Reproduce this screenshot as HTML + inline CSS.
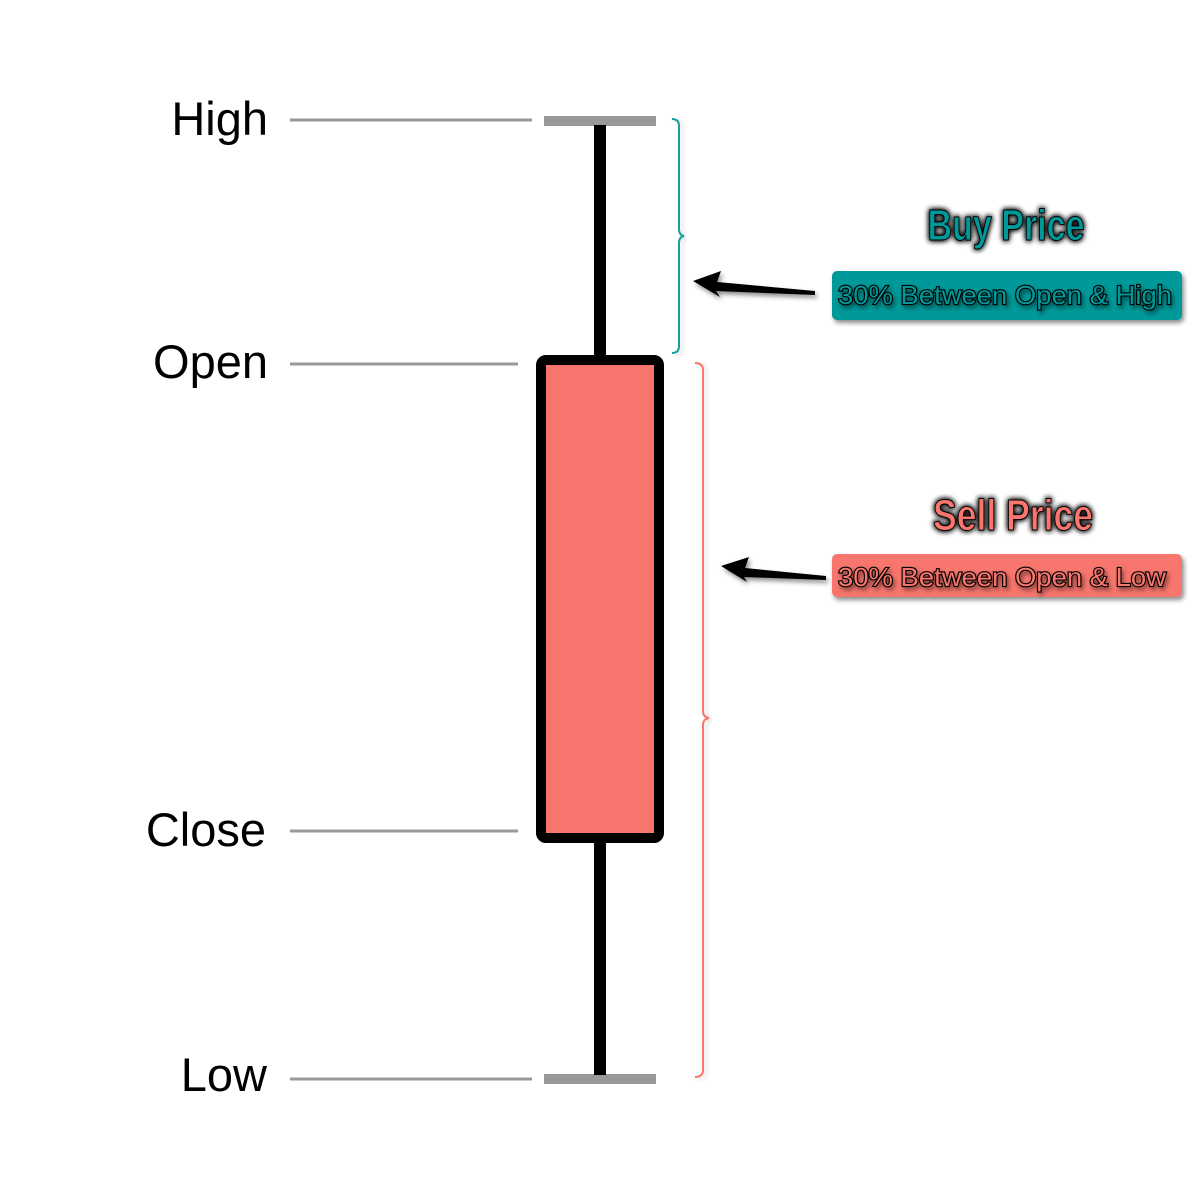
<!DOCTYPE html>
<html><head><meta charset="utf-8"><style>
html,body{margin:0;padding:0;background:#fff;}
svg{display:block}
</style></head><body>
<svg width="1200" height="1200" viewBox="0 0 1200 1200" xmlns="http://www.w3.org/2000/svg">
<defs>
<filter id="glow" x="-20%" y="-40%" width="140%" height="180%">
<feGaussianBlur in="SourceAlpha" stdDeviation="3" result="b"/>
<feMerge><feMergeNode in="b"/><feMergeNode in="b"/><feMergeNode in="SourceGraphic"/></feMerge>
</filter>
<filter id="sh" x="-10%" y="-30%" width="120%" height="160%">
<feDropShadow dx="2" dy="3" stdDeviation="2.5" flood-color="#000" flood-opacity="0.45"/>
</filter>
<filter id="sh2" x="-10%" y="-10%" width="130%" height="130%">
<feDropShadow dx="3" dy="2" stdDeviation="2" flood-color="#000" flood-opacity="0.15"/>
</filter>
</defs>
<g font-family="Liberation Sans, sans-serif" font-size="47" fill="#000" text-anchor="end">
<text x="268" y="135">High</text>
<text x="268" y="378">Open</text>
<text x="266" y="846">Close</text>
<text x="267" y="1091">Low</text>
</g>
<g stroke="#999" stroke-width="3">
<line x1="290" y1="120" x2="532" y2="120"/>
<line x1="290" y1="364" x2="518" y2="364"/>
<line x1="290" y1="831" x2="518" y2="831"/>
<line x1="290" y1="1079" x2="532" y2="1079"/>
</g>
<rect x="544" y="116" width="112" height="10" fill="#999"/>
<rect x="544" y="1074" width="112" height="10" fill="#999"/>
<rect x="594" y="125" width="12" height="950" fill="#000"/>
<rect x="541" y="360" width="118" height="478" rx="5" fill="#F8766D" stroke="#000" stroke-width="10"/>
<path d="M672,119 Q679,119 679,126 L679,229 Q679,235 684,236 Q679,237 679,243 L679,346 Q679,353 672,353" fill="none" stroke="#1a9e9a" stroke-width="2" filter="url(#sh2)"/>
<path d="M695,363 Q703,363 703,370 L703,711 Q703,717 709,718 Q703,719 703,725 L703,1070 Q703,1077 695,1077" fill="none" stroke="#F8766D" stroke-width="2" filter="url(#sh2)"/>
<path d="M693,281 L721,271 L717,282 L815,291 L815,295 L716,291 L720,297 Z" fill="#000" filter="url(#sh)"/>
<path d="M721,566 L749,557 L745,568 L826,576 L826,580 L744,577 L747,582 Z" fill="#000" filter="url(#sh)"/>
<g font-family="Liberation Sans, sans-serif" font-weight="bold" font-size="44" text-anchor="middle" filter="url(#glow)">
<text x="1006" y="240" fill="#009999" stroke="#000" stroke-width="1" textLength="157" lengthAdjust="spacingAndGlyphs">Buy Price</text>
<text x="1013" y="530" fill="#F8766D" stroke="#000" stroke-width="1" textLength="160" lengthAdjust="spacingAndGlyphs">Sell Price</text>
</g>
<rect x="832" y="271" width="350" height="49" rx="5" fill="#009999" filter="url(#sh)"/>
<rect x="832" y="554" width="350" height="43" rx="5" fill="#F8766D" filter="url(#sh)"/>
<g font-family="Liberation Sans, sans-serif" font-size="26" stroke="#000" stroke-width="2.2" paint-order="stroke" filter="url(#sh)">
<text x="838" y="304" fill="#009999" textLength="334" lengthAdjust="spacingAndGlyphs">30% Between Open &amp; High</text>
<text x="838" y="586" fill="#F8766D" textLength="328" lengthAdjust="spacingAndGlyphs">30% Between Open &amp; Low</text>
</g>
</svg>
</body></html>
